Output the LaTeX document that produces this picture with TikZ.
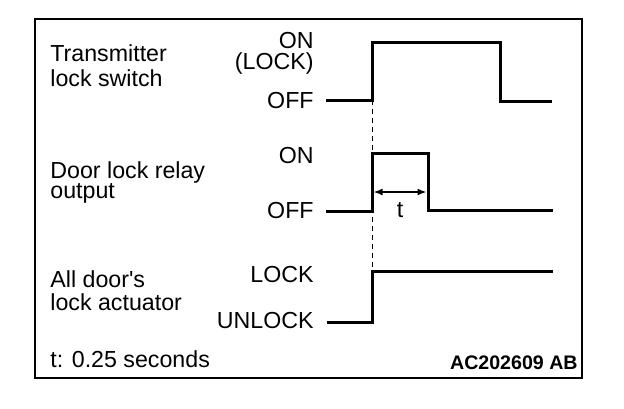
\documentclass[tikz,border=0pt]{standalone}
\usepackage{fontspec}
\setmainfont{Liberation Sans}
\usetikzlibrary{arrows.meta}

\begin{document}
\begin{tikzpicture}[x=0.5pt,y=-0.5pt]
\tikzset{every node/.style={inner sep=0pt,font=\fontsize{11.6}{13}\selectfont}}
\tikzset{level/.style={anchor=base east}}
\tikzset{signal/.style={anchor=base west}}
\tikzset{wave/.style={line width=1.5pt}}
\tikzset{marker/.style={line width=0.5pt,dash pattern=on 2.5pt off 2pt}}
\tikzset{span/.style={line width=0.8pt,{Latex[length=4.5pt,width=3.5pt]}-{Latex[length=4.5pt,width=3.5pt]}}}

\useasboundingbox (0,0) rectangle (624,408);
\draw[line width=1.1pt] (35,19) rectangle (582,378);

\node[signal] (tx1) at (50,61.7) {Transmitter};
\node[signal] (tx2) at (50,86.5) {lock switch};
\node[signal] (dr1) at (50,178) {Door lock relay};
\node[signal] (dr2) at (50,198.5) {output};
\node[signal] (ac1) at (50,287) {All door\textquotesingle s};
\node[signal] (ac2) at (50,310) {lock actuator};
\node[signal] (note) at (50,367) {t: 0.25 seconds};
\node[anchor=base east,font=\fontsize{9.8}{11}\selectfont\bfseries] (code) at (578,369.5) {AC202609 AB};

\node[level] (on1) at (314,48.3) {ON};
\node[level] (lock1) at (314,69.5) {(LOCK)};
\node[level] (off1) at (314,108.3) {OFF};
\node[level] (on2) at (314,163) {ON};
\node[level] (off2) at (314,218) {OFF};
\node[level] (lock2) at (314,282) {LOCK};
\node[level] (unlock) at (314,328) {UNLOCK};

\coordinate (a0) at (326,100); \coordinate (a1) at (372,42);
\coordinate (a2) at (500,101); \coordinate (a3) at (552,101);
\coordinate (b0) at (326,211); \coordinate (b1) at (372,153);
\coordinate (b2) at (428,210); \coordinate (b3) at (553,210);
\coordinate (c0) at (327,322); \coordinate (c1) at (372,271);
\coordinate (c2) at (553,271);
\coordinate (t0) at (373.5,192); \coordinate (t1) at (426.5,192);

\draw[wave] (a0) -| (a1) -| (a2) -- (a3);
\draw[wave] (b0) -| (b1) -| (b2) -- (b3);
\draw[wave] (c0) -| (c1) -- (c2);
\draw[marker] (a0 -| a1) -- (c1);
\draw[span] (t0) -- node[below=5pt] (tlab) {t} (t1);

\end{tikzpicture}
\end{document}
